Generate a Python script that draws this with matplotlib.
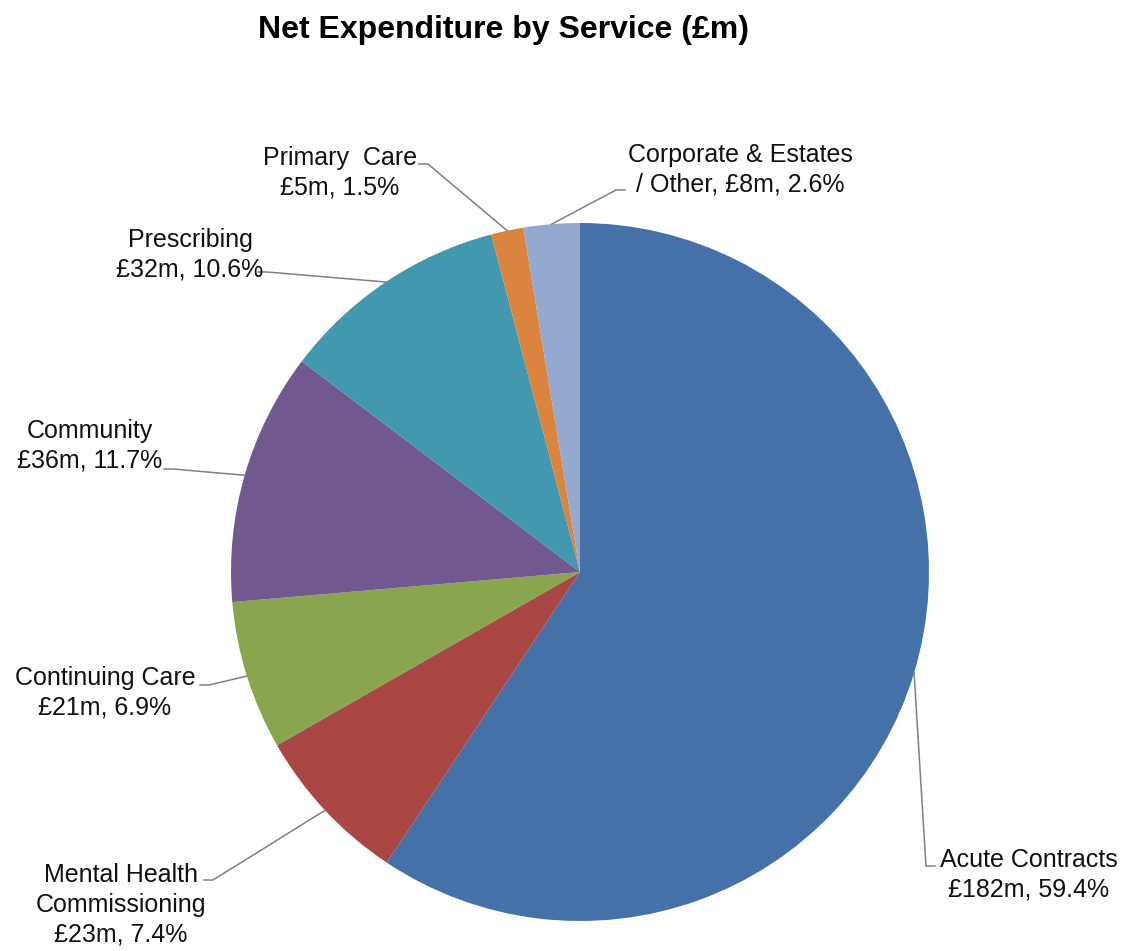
import numpy as np
import matplotlib
matplotlib.use('Agg')
import matplotlib.pyplot as plt

plt.rcParams['font.family'] = ['Liberation Sans', 'DejaVu Sans']

# data
services = ['Acute Contracts', 'Mental Health\nCommissioning', 'Continuing Care',
            'Community', 'Prescribing', 'Primary  Care', 'Corporate & Estates\n/ Other']
spend_m = [182, 23, 21, 36, 32, 5, 8]
share_pct = [59.4, 7.4, 6.9, 11.7, 10.6, 1.5, 2.6]
colours = ['#4571A8', '#A84744', '#89A54E', '#71588F', '#4198AF', '#DB843D', '#93A9CF']

W, H = 1129, 951
cx, cy, R = 580, 572, 349   # pie centre / radius in pixels


def px(x, y):
    # pixel (from top-left) -> data units
    return (x - cx) / R, (cy - y) / R


fig = plt.figure(figsize=(W / 100, H / 100), dpi=100)
ax = fig.add_axes([0, 0, 1, 1])
wedges, _ = ax.pie(share_pct, colors=colours, startangle=90, counterclock=False,
                   radius=1, wedgeprops=dict(linewidth=0))
ax.set_aspect('equal')
ax.set_xlim(-cx / R, (W - cx) / R)
ax.set_ylim(-(H - cy) / R, cy / R)
ax.axis('off')

# label layout: text centre, leader end point, side of tick
layout = [
    ((1029, 875), (926, 866), 'left'),
    ((121, 905), (213, 880), 'right'),
    ((105, 693), (209, 685), 'right'),
    ((90, 446), (173, 469), 'right'),
    ((190, 255), (267, 272), 'right'),
    ((340, 173), (428, 164), 'right'),
    ((740, 170), (616, 190), 'left'),
]

for i, w in enumerate(wedges):
    sep = ', ' if services[i].endswith('Other') else '\n'
    text = '%s%s£%dm, %.1f%%' % (services[i], sep, spend_m[i], share_pct[i])
    tpos, lend, side = layout[i]
    ang = np.deg2rad((w.theta1 + w.theta2) / 2)
    ex, ey = np.cos(ang), np.sin(ang)
    lx, ly = px(*lend)
    tick = 9 / R if side == 'left' else -9 / R
    ax.plot([ex, lx, lx + tick], [ey, ly, ly], color='#808080', lw=1.1,
            solid_joinstyle='miter')
    tx, ty = px(*tpos)
    ax.text(tx, ty, text, ha='center', va='center', fontsize=18,
            linespacing=1.3, multialignment='center', color='#111111')

fig.text(503 / W, 1 - 30 / H, 'Net Expenditure by Service (£m)', ha='center',
         va='center', fontsize=23, fontweight='bold')

fig.savefig('out.png', dpi=100)
